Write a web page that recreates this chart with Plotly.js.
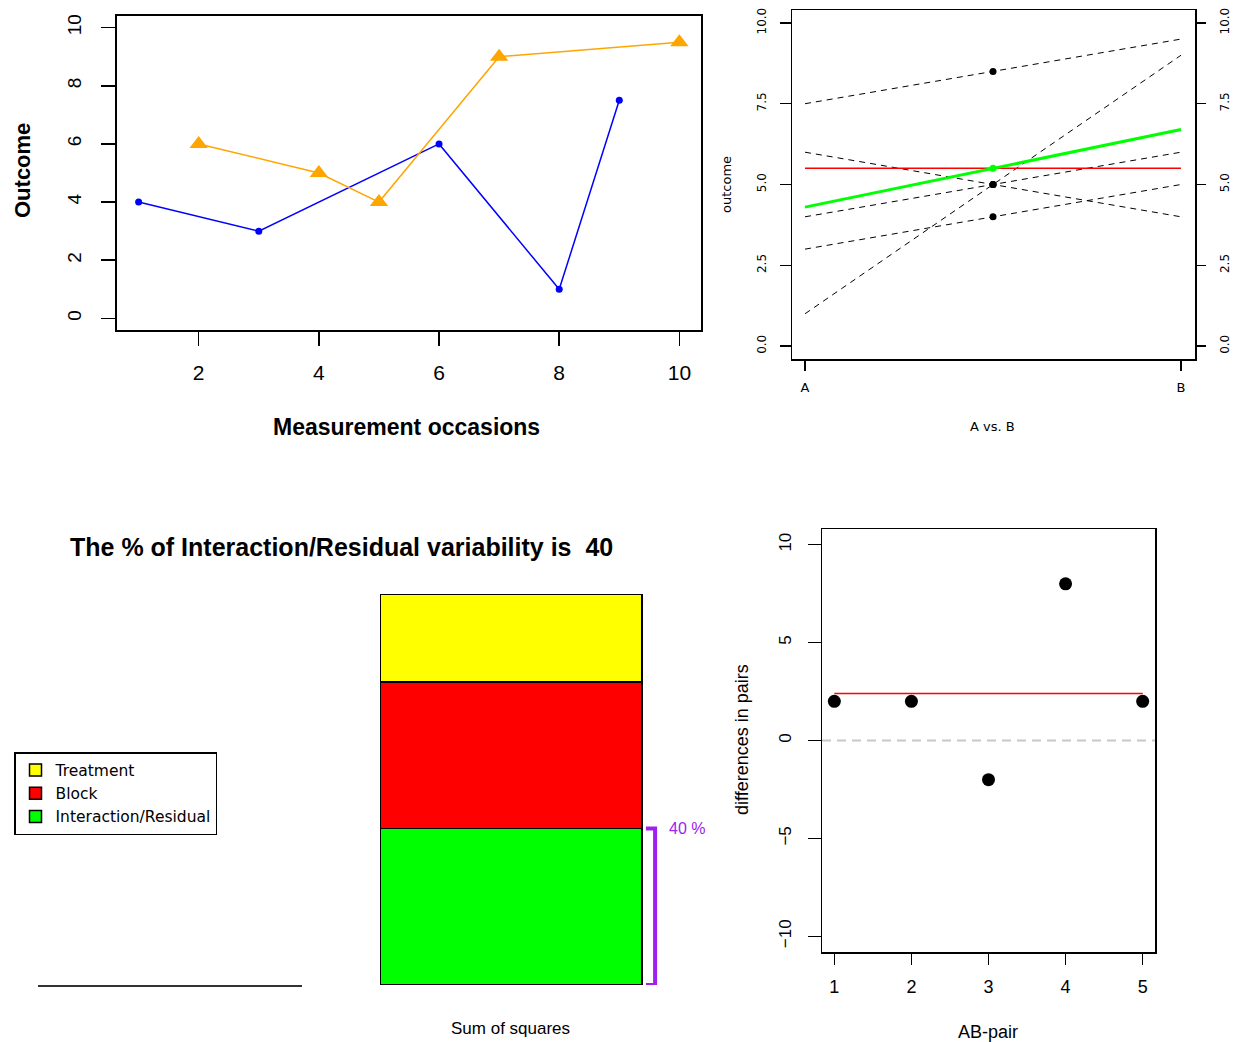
<!DOCTYPE html>
<html><head><meta charset="utf-8">
<script src="https://cdn.plot.ly/plotly-3.0.1.min.js"></script>
<style>html,body{margin:0;padding:0;background:#fff}#chart{width:1233px;height:1042px}</style>
</head><body><div id="chart"></div>
<script>
// ---------- data ----------
const occasionsA = [1, 3, 6, 8, 9];
const outcomeA   = [4, 3, 6, 1, 7.5];
const occasionsB = [2, 4, 5, 7, 10];
const outcomeB   = [6, 5, 4, 9, 9.5];
const conditions = ['A', 'B'];
const pairMidpoints = [5, 4, 5, 5, 8.5];
const conditionMeans = [4.3, 6.7];
const grandMean = 5.5;
const pairs = [1, 2, 3, 4, 5];
const pairDiffs = [2, 2, -2, 8, 2];
const meanDiff = 2.4;
const ssLabels = ['Treatment', 'Block', 'Interaction/Residual'];
const ssValues = [14.4, 24, 25.6];

// ---------- styles ----------
const W = 1233, H = 1042;
const px = x => x / W, py = y => 1 - y / H;
const SANS = '"Liberation Sans", Arial, sans-serif';
const DV = '"DejaVu Sans", sans-serif';
const ssColors = ['#FFFF00', '#FF0000', '#00FF00'];
const purple = '#A020F0';

const total = ssValues.reduce((a, b) => a + b, 0);
const residual = ssValues[2];
const pct = Math.round(residual / total * 100);

const traces = [];
// top-left
traces.push({x: occasionsA, y: outcomeA, mode: 'lines+markers', xaxis: 'x', yaxis: 'y',
  line: {color: '#0000FF', width: 1.5}, marker: {color: '#0000FF', size: 7}, showlegend: false});
traces.push({x: occasionsB, y: outcomeB, mode: 'lines+markers', xaxis: 'x', yaxis: 'y',
  line: {color: '#FFA500', width: 1.5}, marker: {color: '#FFA500', size: 16, symbol: 'triangle-up'}, showlegend: false});
// top-right
const cx = [0, 1];
const mid = (cx[0] + cx[1]) / 2;
for (let i = 0; i < outcomeA.length; i++) {
  traces.push({x: cx, y: [outcomeA[i], outcomeB[i]], mode: 'lines', xaxis: 'x2', yaxis: 'y2',
    line: {color: 'black', width: 1, dash: '6px,5px'}, showlegend: false});
}
traces.push({x: cx, y: [grandMean, grandMean], mode: 'lines', xaxis: 'x2', yaxis: 'y2',
  line: {color: '#FF0000', width: 1.5}, showlegend: false});
traces.push({x: cx, y: conditionMeans, mode: 'lines', xaxis: 'x2', yaxis: 'y2',
  line: {color: '#00FF00', width: 3}, showlegend: false});
traces.push({x: pairMidpoints.map(() => mid), y: pairMidpoints, mode: 'markers', xaxis: 'x2', yaxis: 'y2',
  marker: {color: 'black', size: 7}, showlegend: false});
traces.push({x: [mid], y: [grandMean], mode: 'markers', xaxis: 'x2', yaxis: 'y2',
  marker: {color: '#00FF00', size: 7}, showlegend: false});
traces.push({x: [], y: [], mode: 'markers', xaxis: 'x2', yaxis: 'y3', showlegend: false});
// bottom-left bars (stack bottom -> top: residual, block, treatment)
for (let k = ssValues.length - 1; k >= 0; k--) {
  traces.push({type: 'bar', x: [0], y: [ssValues[k]], width: [1], name: ssLabels[k], xaxis: 'x3', yaxis: 'y4',
    marker: {color: ssColors[k], line: {color: 'black', width: 1.5}}, showlegend: true});
}
traces.push({x: [0.515, 0.55, 0.55, 0.515], y: [0, 0, residual, residual], mode: 'lines', xaxis: 'x3', yaxis: 'y4',
  line: {color: purple, width: 4}, showlegend: false});
traces.push({x: [], y: [], mode: 'markers', xaxis: 'x5', yaxis: 'y4', showlegend: false});
// bottom-right
traces.push({x: [pairs[0], pairs[pairs.length - 1]], y: [meanDiff, meanDiff], mode: 'lines', xaxis: 'x4', yaxis: 'y5',
  line: {color: '#FF0000', width: 1.5}, showlegend: false});
traces.push({x: pairs, y: pairDiffs, mode: 'markers', xaxis: 'x4', yaxis: 'y5',
  marker: {color: 'black', size: 13}, showlegend: false});

const baseAx = {showgrid: false, zeroline: false, showline: true, mirror: true, linecolor: 'black',
  linewidth: 1.5, ticks: 'outside', tickcolor: 'black', tickwidth: 1.5, fixedrange: true};

function ann(text, x, y, font, angle) {
  return {text: text, x: px(x), y: py(y), xref: 'paper', yref: 'paper', showarrow: false,
    xanchor: 'center', yanchor: 'middle', textangle: angle || 0, font: font};
}

const layout = {
  width: W, height: H, margin: {l: 0, r: 0, t: 0, b: 0},
  paper_bgcolor: 'white', plot_bgcolor: 'white',
  barmode: 'stack', hovermode: false, showlegend: true,
  xaxis: Object.assign({}, baseAx, {domain: [px(117), px(701)], anchor: 'y', range: [0.64, 10.36],
    tick0: 2, dtick: 2, linewidth: 2, ticklen: 14, ticklabelstandoff: 9,
    tickfont: {family: SANS, size: 21, color: 'black'}}),
  yaxis: Object.assign({}, baseAx, {domain: [py(330), py(16)], anchor: 'x', range: [-0.4, 10.4],
    tick0: 0, dtick: 2, linewidth: 2, ticklen: 14, tickangle: -90, ticklabelstandoff: 12,
    tickfont: {family: SANS, size: 19, color: 'black'}}),
  xaxis2: Object.assign({}, baseAx, {domain: [px(792), px(1195)], anchor: 'y2', range: [-0.0346, 1.0372],
    tickvals: cx, ticktext: conditions, ticklen: 10, ticklabelstandoff: 6,
    tickfont: {family: DV, size: 13, color: 'black'}}),
  yaxis2: Object.assign({}, baseAx, {domain: [py(359), py(10)], anchor: 'x2', range: [-0.4, 10.4],
    tick0: 0, dtick: 2.5, tickformat: '.1f', ticklen: 11, tickangle: -90, ticklabelstandoff: 9,
    tickfont: {family: DV, size: 12, color: 'black'}}),
  yaxis3: Object.assign({}, baseAx, {overlaying: 'y2', side: 'right', anchor: 'x2', range: [-0.4, 10.4],
    showline: false, mirror: false, tick0: 0, dtick: 2.5, tickformat: '.1f', ticklen: 10, tickangle: -90,
    ticklabelstandoff: 9, tickfont: {family: DV, size: 12, color: 'black'}}),
  xaxis3: {domain: [px(380), px(720.6)], anchor: 'y4', range: [-0.5, 0.8], visible: false, fixedrange: true},
  yaxis4: {domain: [py(985), py(594)], anchor: 'x3', range: [0, total], visible: false, fixedrange: true},
  xaxis5: {domain: [px(38), px(302)], anchor: 'y4', range: [0, 1], showline: true, linecolor: '#333',
    linewidth: 2, showticklabels: false, ticks: '', showgrid: false, zeroline: false, fixedrange: true},
  xaxis4: Object.assign({}, baseAx, {domain: [px(822), px(1155)], anchor: 'y5', range: [0.84, 5.16],
    tick0: 1, dtick: 1, ticklen: 11, ticklabelstandoff: 7,
    tickfont: {family: SANS, size: 18, color: 'black'}}),
  yaxis5: Object.assign({}, baseAx, {domain: [py(952), py(529)], anchor: 'x4', range: [-10.8, 10.8],
    tick0: -10, dtick: 5, ticklen: 13, tickangle: -90, ticklabelstandoff: 10,
    tickfont: {family: SANS, size: 17, color: 'black'}}),
  legend: {x: px(14), y: py(752), xanchor: 'left', yanchor: 'top', traceorder: 'reversed',
    bordercolor: 'black', borderwidth: 1.5, bgcolor: 'white',
    font: {family: DV, size: 15.5, color: 'black'}},
  shapes: [{type: 'line', xref: 'x4 domain', yref: 'y5', x0: 0, x1: 1, y0: 0, y1: 0,
    line: {color: '#C8C8C8', width: 2, dash: '9px,6px'}, layer: 'above'}],
  annotations: [
    ann('<b>Outcome</b>', 22, 171, {family: SANS, size: 22, color: 'black'}, -90),
    ann('<b>Measurement occasions</b>', 406, 427, {family: SANS, size: 23, color: 'black'}),
    ann('outcome', 726, 184, {family: DV, size: 13, color: 'black'}, -90),
    ann('A vs. B', 992, 426, {family: DV, size: 13, color: 'black'}),
    ann('<b>The % of Interaction/Residual variability is  ' + pct + '</b>', 341, 547,
      {family: SANS, size: 25, color: 'black'}),
    ann('Sum of squares', 511, 1028, {family: SANS, size: 17, color: 'black'}),
    ann('differences in pairs', 742, 740, {family: SANS, size: 18, color: 'black'}, -90),
    ann('AB-pair', 988, 1032, {family: SANS, size: 18, color: 'black'}),
    {text: pct + ' %', x: 0.595, y: residual, xref: 'x3', yref: 'y4', showarrow: false,
      xanchor: 'left', yanchor: 'middle', font: {family: SANS, size: 16, color: purple}}
  ]
};

Plotly.newPlot('chart', traces, layout, {staticPlot: true, displayModeBar: false});
</script>
</body></html>
